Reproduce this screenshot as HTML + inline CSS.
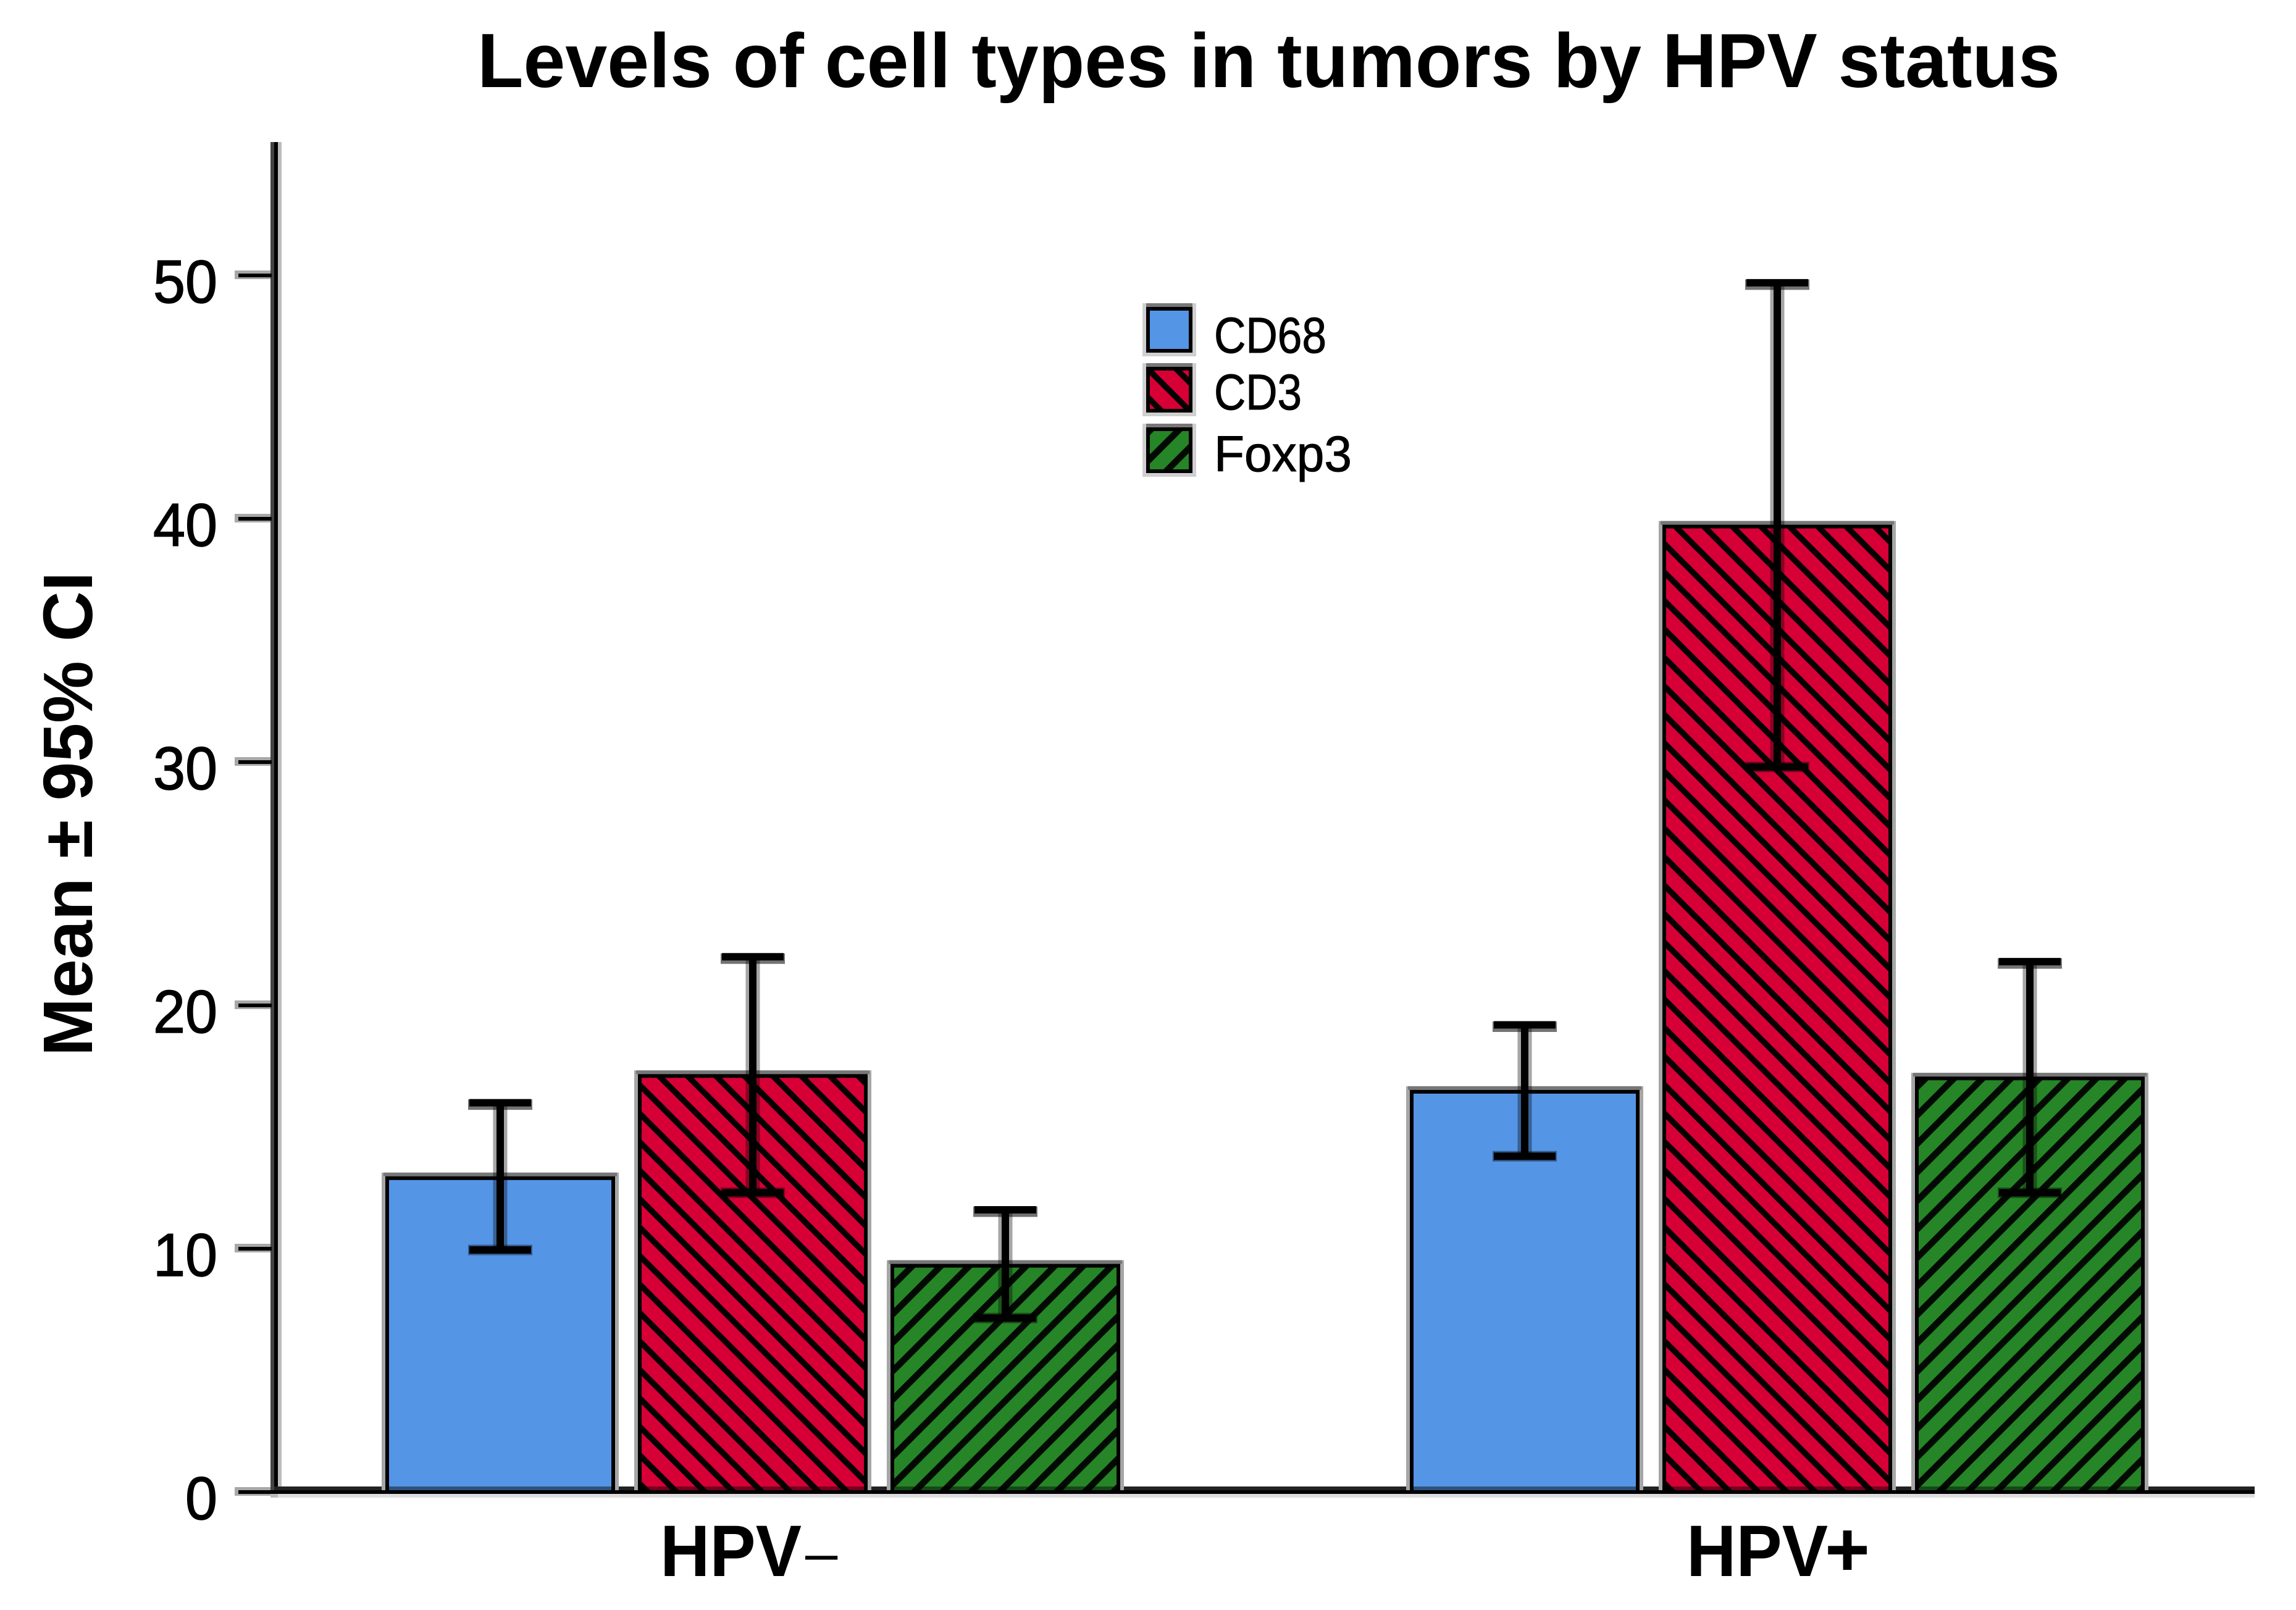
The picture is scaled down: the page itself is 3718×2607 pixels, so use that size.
<!DOCTYPE html>
<html lang="en">
<head>
<meta charset="utf-8">
<title>Levels of cell types in tumors by HPV status</title>
<style>
html,body{margin:0;padding:0;background:#fff;width:3718px;height:2607px;overflow:hidden}
svg{display:block}
text{font-family:"Liberation Sans",Arial,sans-serif;fill:#000}
</style>
</head>
<body>
<svg id="chart" xmlns="http://www.w3.org/2000/svg" width="3718" height="2607" viewBox="0 0 3718 2607">
  <defs>
    <pattern id="hatch-red" width="32.6" height="32.6" patternUnits="userSpaceOnUse" patternTransform="translate(9.8,0) rotate(-45)">
      <rect width="32.6" height="32.6" fill="#d60036"/>
      <rect x="0" width="9.5" height="32.6" fill="#070002"/>
    </pattern>
    <pattern id="hatch-green" width="32.6" height="32.6" patternUnits="userSpaceOnUse" patternTransform="translate(16,0) rotate(45)">
      <rect width="32.6" height="32.6" fill="#268526"/>
      <rect x="0" width="10.5" height="32.6" fill="#030a03"/>
    </pattern>
  </defs>
  <rect width="3718" height="2607" fill="#fff"/>
  <text x="773" y="141" font-size="124" font-weight="700" textLength="2563" lengthAdjust="spacingAndGlyphs">Levels of cell types in tumors by HPV status</text>
  <text transform="translate(149,1318) rotate(-90)" text-anchor="middle" font-size="113" font-weight="700">Mean ± 95% CI</text>
  <g id="axes"></g>
  <g id="bars"></g>
  <g id="axis-top"></g>
  <g id="errors"></g>
  <g id="legend"></g>
</svg>
<script>
const categories = ["HPV–", "HPV+"];
const seriesNames = ["CD68", "CD3", "Foxp3"];
const cd68Means = [12.9, 16.45];
const cd3Means = [17.1, 39.68];
const foxp3Means = [9.3, 17.0];
const cd68High = [16.0, 19.2];
const cd3High = [22.0, 49.7];
const foxp3High = [11.6, 21.8];
const cd68Low = [9.95, 13.8];
const cd3Low = [12.3, 29.8];
const foxp3Low = [7.15, 12.3];
const yTicks = [0, 10, 20, 30, 40, 50];

const meanSeries = [cd68Means, cd3Means, foxp3Means];
const highSeries = [cd68High, cd3High, foxp3High];
const lowSeries = [cd68Low, cd3Low, foxp3Low];
const seriesFills = ["#5595e6", "url(#hatch-red)", "url(#hatch-green)"];

const NS = "http://www.w3.org/2000/svg";
const Y_ZERO = 2416, Y_UNIT = 39.4;
const G_START = 1219, G_STEP = 1659, BAR_STEP = 409, BAR_W = 366;
const yScale = v => Y_ZERO - v * Y_UNIT;
const xBarCenter = (g, s) => G_START + g * G_STEP + (s - 1) * BAR_STEP;

function mk(parent, tag, attrs) {
  const el = document.createElementNS(NS, tag);
  for (const k in attrs) el.setAttribute(k, attrs[k]);
  parent.appendChild(el);
  return el;
}
const axes = document.getElementById("axes");
const bars = document.getElementById("bars");
const axisTop = document.getElementById("axis-top");
const errors = document.getElementById("errors");
const legend = document.getElementById("legend");

/* y axis */
let el = mk(axes, "rect", {x: 438, y: 230, width: 18, height: 2195, fill: "#bcbcbc"});


el = mk(axes, "rect", {x: 438, y: 230, width: 6, height: 2183, fill: "#444"});


el = mk(axes, "rect", {x: 444, y: 230, width: 6, height: 2189, fill: "#000"});



yTicks.forEach(t => {
  const y = yScale(t);
  let m = mk(axes, "rect", {x: 380, y: y - 8, width: 58, height: 14, fill: "#a8a8a8"});
  
  
  m = mk(axes, "rect", {x: 386, y: y - 3, width: 54, height: 6, fill: "#000"});
  
  
  m = mk(axes, "text", {x: 352, y: y + 44, "text-anchor": "end", "font-size": 98, stroke: "#000", "stroke-width": 1.5, textLength: String(t).length * 52, lengthAdjust: "spacingAndGlyphs"});
  m.textContent = String(t);
  
  
});

/* x axis base row (under bars) */
el = mk(axes, "rect", {x: 444, y: 2407, width: 3207, height: 6, fill: "#222"});



/* bars */
categories.forEach((cat, g) => {
  meanSeries.forEach((vals, s) => {
    const cx = xBarCenter(g, s), top = yScale(vals[g]);
    let r = mk(bars, "rect", {x: cx - BAR_W / 2, y: top, width: BAR_W, height: Y_ZERO - top, fill: "none", stroke: "#a6a6a6", "stroke-width": 18});
    
    
    r = mk(bars, "rect", {x: cx - BAR_W / 2 - 6, y: top - 9, width: BAR_W + 12, height: 6, fill: "#777"});
    
    
    r = mk(bars, "rect", {x: cx - BAR_W / 2, y: top, width: BAR_W, height: Y_ZERO - top, fill: seriesFills[s], stroke: "#000", "stroke-width": 6});
    
    
    r = mk(bars, "rect", {x: cx - BAR_W / 2, y: 2407, width: BAR_W, height: 6, fill: "#000", opacity: 0.45});
    
    
  });
});

/* x axis on top */
el = mk(axisTop, "rect", {x: 450, y: 2419, width: 3201, height: 6, fill: "#dedede"});


el = mk(axisTop, "rect", {x: 386, y: 2413, width: 3265, height: 6, fill: "#000"});



/* error bars */
categories.forEach((cat, g) => {
  meanSeries.forEach((vals, s) => {
    const cx = xBarCenter(g, s), hi = yScale(highSeries[s][g]), lo = yScale(lowSeries[s][g]);
    let m = mk(errors, "line", {x1: cx, x2: cx, y1: hi, y2: lo, stroke: "#000", "stroke-opacity": 0.35, "stroke-width": 23});
    
    
    m = mk(errors, "line", {x1: cx - 52, x2: cx + 52, y1: hi + 3, y2: hi + 3, stroke: "#000", "stroke-opacity": 0.55, "stroke-width": 17});
    
    
    m = mk(errors, "line", {x1: cx - 52, x2: cx + 52, y1: lo, y2: lo, stroke: "#000", "stroke-opacity": 0.4, "stroke-width": 17});
    
    
    m = mk(errors, "line", {x1: cx, x2: cx, y1: hi, y2: lo, stroke: "#000", "stroke-width": 12});
    
    
    m = mk(errors, "line", {x1: cx - 50, x2: cx + 50, y1: hi, y2: hi, stroke: "#000", "stroke-width": 12});
    
    
    m = mk(errors, "line", {x1: cx - 50, x2: cx + 50, y1: lo, y2: lo, stroke: "#000", "stroke-width": 12});
    
    
  });
});

/* category labels */
categories.forEach((cat, g) => {
  const cx = G_START + g * G_STEP;
  const baseX = cx - (g === 0 ? 150 : 147);
  const t = mk(axes, "text", {x: baseX, y: 2552, "font-size": 118, "font-weight": 700, textLength: 229, lengthAdjust: "spacingAndGlyphs"});
  t.textContent = cat.slice(0, -1);
  
  
  const attrs = g === 0
    ? {x: baseX + 235, y: 2546, "font-size": 94, "font-weight": 400}
    : {x: baseX + 224, y: 2552, "font-size": 125, "font-weight": 700};
  const sign = mk(axes, "text", attrs);
  sign.textContent = cat.slice(-1);
  
  
});

/* legend */
const legendWidths = [174, 134, 215];
const legendTops = [500, 597, 695];
const legendBaselines = [571, 663, 763];
seriesNames.forEach((name, s) => {
  const top = legendTops[s];
  let m = mk(legend, "rect", {x: 1859, y: top, width: 69, height: 68, fill: "none", stroke: "#cfcfcf", "stroke-width": 18});
  
  
  m = mk(legend, "rect", {x: 1856, y: top - 9, width: 75, height: 6, fill: "#777"});
  
  
  m = mk(legend, "rect", {x: 1859, y: top, width: 69, height: 68, fill: seriesFills[s], stroke: "#000", "stroke-width": 6});
  
  
  m = mk(legend, "text", {x: 1966, y: legendBaselines[s], "font-size": 82, stroke: "#000", "stroke-width": 1, textLength: legendWidths[s] + 8, lengthAdjust: "spacingAndGlyphs"});
  m.textContent = name;
  
  
});
</script>
</body>
</html>
